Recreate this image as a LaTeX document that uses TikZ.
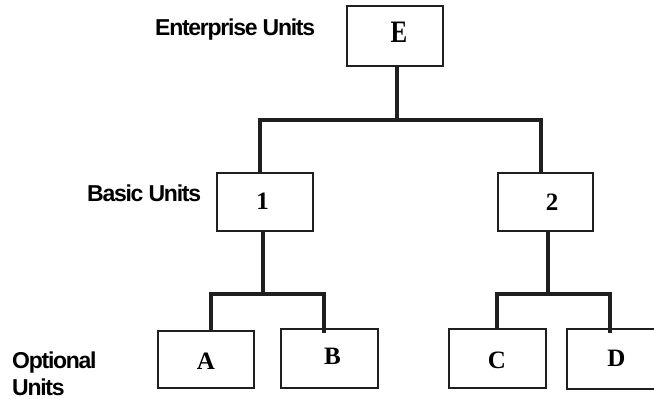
\documentclass[tikz,border=0pt]{standalone}
\usepackage{fontspec}
\setmainfont{Liberation Serif}
\newfontfamily\labfont[LetterSpace=-5.5]{Liberation Sans}
\begin{document}
\begin{tikzpicture}[x=1pt,y=-1pt,
  box/.style={draw=black!88,line width=2.1pt,rectangle,inner sep=0pt},
  conn/.style={draw=black!88,line width=3.1pt},
  boxtxt/.style={inner sep=0pt,font=\fontsize{25}{25}\selectfont\bfseries},
  lvl/.style={inner sep=0pt,anchor=base west,font=\fontsize{23}{23}\selectfont\labfont\bfseries}]
\useasboundingbox (0,0) rectangle (654,399);
\fill[white] (0,0) rectangle (654,399);
% boxes
\node[box,minimum width=96pt,minimum height=60pt] (E) at (395,36) {};
\node[box,minimum width=96pt,minimum height=58pt] (b1) at (265,202) {};
\node[box,minimum width=95pt,minimum height=58pt] (b2) at (545.5,202) {};
\node[box,minimum width=96pt,minimum height=57pt] (A) at (206,359.5) {};
\node[box,minimum width=97pt,minimum height=59pt] (B) at (329.5,358.5) {};
\node[box,minimum width=97pt,minimum height=59pt] (C) at (497.5,358.5) {};
\node[box,minimum width=100pt,minimum height=60pt] (D) at (617,359) {};
% box texts
\node[boxtxt,yscale=1.25] (tE) at (399,32) {E};
\node[boxtxt] (t1) at (262.5,201.5) {1};
\node[boxtxt] (t2) at (552,202) {2};
\node[boxtxt] (tA) at (206,361.5) {A};
\node[boxtxt] (tB) at (332.5,356.5) {B};
\node[boxtxt] (tC) at (497,360.5) {C};
\node[boxtxt] (tD) at (616.5,358) {D};
% level labels
\node[lvl] (lE) at (155,35) {Enterprise Units};
\node[lvl] (lB) at (87,201) {Basic Units};
\node[lvl] (lO1) at (12,368) {Optional};
\node[lvl] (lO2) at (12,395) {Units};
% connector coordinates
\coordinate (tl) at (260,120);
\coordinate (tr) at (541,120);
\coordinate (al) at (211,294);
\coordinate (ar) at (324,294);
\coordinate (arEnd) at (324,333);
\coordinate (cl) at (497,294);
\coordinate (cr) at (610,294);
\coordinate (crEnd) at (610,333);
% connectors
\draw[conn] ([xshift=2pt]E.south) -- ([xshift=2pt]E.south |- tl);
\draw[conn] (tl |- b1.north) -- (tl) -- (tr) -- (tr |- b2.north);
\draw[conn] ([xshift=-2pt]b1.south) -- ([xshift=-2pt]b1.south |- al);
\draw[conn] (al |- A.north) -- (al) -- (ar) -- (arEnd);
\draw[conn] ([xshift=2.5pt]b2.south) -- ([xshift=2.5pt]b2.south |- cl);
\draw[conn] (cl |- C.north) -- (cl) -- (cr) -- (crEnd);
\end{tikzpicture}
\end{document}
